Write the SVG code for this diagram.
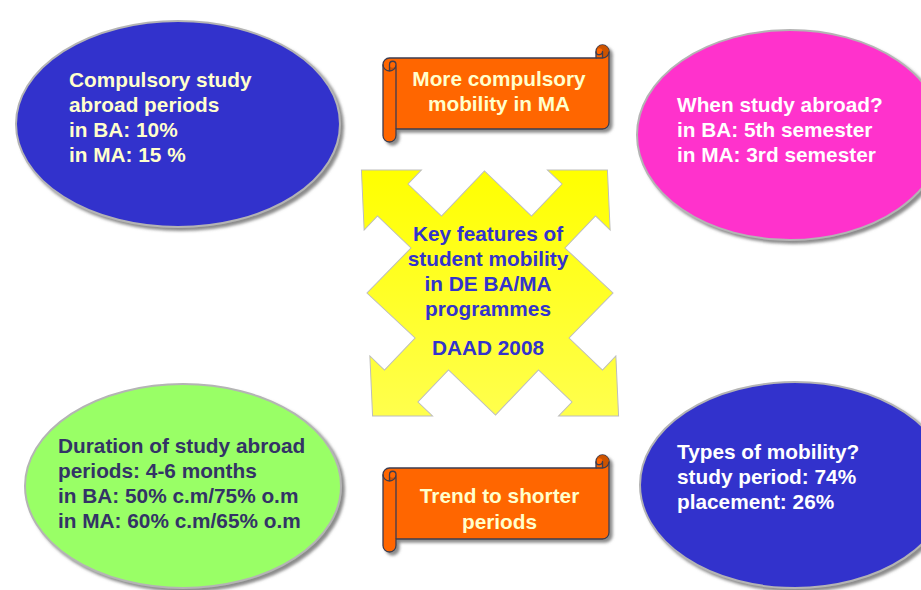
<svg xmlns="http://www.w3.org/2000/svg" width="921" height="590" viewBox="0 0 921 590">
<style>
  text { font-family: "Liberation Sans", Arial, sans-serif; font-weight: bold; font-size: 20.8px; }
  .ell { stroke: #B4B4B4; stroke-width: 2; filter: url(#shadow); }
  .cream { fill: #FFFFCC; }
  .white { fill: #FFFFFF; }
  .navy { fill: #333366; }
  .blue { fill: #3333CC; }
  .scroll-body { fill: #FF6600; stroke: #3C3C50; stroke-width: 1.3; stroke-linejoin: round; }
  .scroll-dark { fill: #CC5200; stroke: none; }
  .scroll-line { fill: none; stroke: #3C3C50; stroke-width: 1.3; stroke-linejoin: round; }
</style>
<defs>
  <filter id="shadow" x="-10%" y="-10%" width="125%" height="125%">
    <feDropShadow dx="3" dy="3" stdDeviation="1.5" flood-color="#6E6E6E" flood-opacity="0.8"/>
  </filter>
  <linearGradient id="yel" x1="0" y1="0" x2="0" y2="1">
    <stop offset="0" stop-color="#FFFF00"/>
    <stop offset="1" stop-color="#FFFF4D"/>
  </linearGradient>
  <g id="scroll">
    <path class="scroll-body" d="M0,19.5 A6.5,6.5 0 0 1 6.5,13 L213,13 L213,6.5 A6.5,6.5 0 0 1 226,6.5 L226,77.5 A6.5,6.5 0 0 1 219.5,84 L13,84 L13,90.5 A6.5,6.5 0 0 1 0,90.5 Z"/>
    <path class="scroll-dark" d="M6.5,26 A6.5,6.5 0 0 0 13,19.5 A3.25,3.25 0 0 1 6.5,19.5 Z M219.5,13 A6.5,6.5 0 1 0 213,6.5 A3.25,3.25 0 0 1 219.5,6.5 Z"/>
    <path class="scroll-line" d="M213,13 L219.5,13 A6.5,6.5 0 0 0 226,6.5 M219.5,13 L219.5,6.5 A3.25,3.25 0 0 1 213,6.5 M6.5,26 L6.5,19.5 A3.25,3.25 0 0 1 13,19.5 A6.5,6.5 0 0 1 0,19.5 M13,19.5 L13,84"/>
  </g>
</defs>
<rect width="921" height="590" fill="#FFFFFF"/>

<g id="center-arrow">
  <polygon transform="translate(490,293) skewX(2.6)" fill="url(#yel)" stroke="#BDBDBD" stroke-width="1"
    points="-123,-123 -63,-123 -77,-109 -45,-77 0,-122 45,-77 77,-109 63,-123 123,-123 123,-63 109,-77 77,-45 123,0 77,45 109,77 123,63 123,123 63,123 77,109 45,77 0,122 -45,77 -77,109 -63,123 -123,123 -123,63 -109,77 -77,45 -123,0 -77,-45 -109,-77 -123,-63"/>
  <g class="blue" text-anchor="middle">
    <text x="488" y="241">Key features of</text>
    <text x="488" y="266">student mobility</text>
    <text x="488" y="291">in DE BA/MA</text>
    <text x="488" y="316">programmes</text>
    <text x="488" y="355">DAAD 2008</text>
  </g>
</g>

<g id="compulsory-periods">
  <ellipse class="ell" cx="178" cy="124" rx="162" ry="103" fill="#3333CC"/>
  <g class="cream">
    <text x="69" y="87">Compulsory study</text>
    <text x="69" y="112">abroad periods</text>
    <text x="69" y="137">in BA: 10%</text>
    <text x="69" y="162">in MA: 15 %</text>
  </g>
</g>

<g id="when-abroad">
  <ellipse class="ell" cx="790" cy="135" rx="153" ry="105" fill="#FF33CC"/>
  <g class="white">
    <text x="677" y="112">When study abroad?</text>
    <text x="677" y="137">in BA: 5th semester</text>
    <text x="677" y="162">in MA: 3rd semester</text>
  </g>
</g>

<g id="duration">
  <ellipse class="ell" cx="183" cy="486" rx="158" ry="102" fill="#99FF66"/>
  <g class="navy">
    <text x="58" y="453">Duration of study abroad</text>
    <text x="58" y="478">periods: 4-6 months</text>
    <text x="58" y="503">in BA: 50% c.m/75% o.m</text>
    <text x="58" y="528">in MA: 60% c.m/65% o.m</text>
  </g>
</g>

<g id="types">
  <ellipse class="ell" cx="795" cy="485" rx="155" ry="103" fill="#3333CC"/>
  <g class="white">
    <text x="677" y="459">Types of mobility?</text>
    <text x="677" y="484">study period: 74%</text>
    <text x="677" y="509">placement: 26%</text>
  </g>
</g>

<g id="more-compulsory">
  <use href="#scroll" transform="translate(383,45)" filter="url(#shadow)"/>
  <g class="cream" text-anchor="middle">
    <text x="499" y="86">More compulsory</text>
    <text x="499" y="111">mobility in MA</text>
  </g>
</g>

<g id="shorter-periods">
  <use href="#scroll" transform="translate(383,455)" filter="url(#shadow)"/>
  <g class="cream" text-anchor="middle">
    <text x="499.5" y="503">Trend to shorter</text>
    <text x="499.5" y="529">periods</text>
  </g>
</g>

<g id="connectors"></g>
</svg>
